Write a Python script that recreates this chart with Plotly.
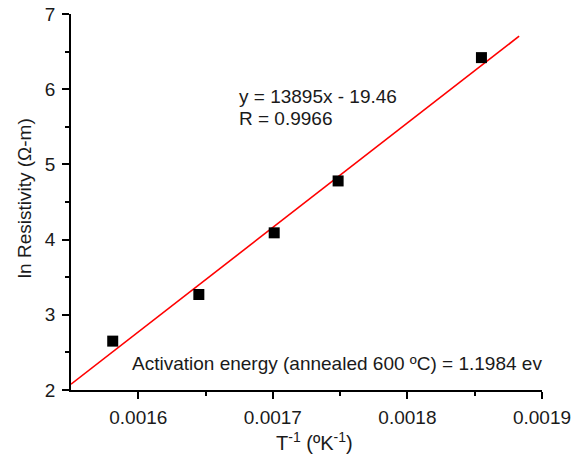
import plotly.graph_objects as go

# Measured data: inverse temperature vs ln resistivity
inv_T = [0.001581, 0.001645, 0.001701, 0.0017485, 0.001855]
ln_rho = [2.65, 3.27, 4.09, 4.78, 6.42]

# Linear fit reported on the chart
slope = 13895
intercept = -19.46
r_value = 0.9966
fit_x = [0.00155, 0.001883]
fit_y = [slope * x + intercept for x in fit_x]

x_ticks = [0.0016, 0.0017, 0.0018, 0.0019]
y_ticks = [2, 3, 4, 5, 6, 7]

font = "Liberation Sans, Arial, sans-serif"
txt = "#1a1a1a"

fig = go.Figure()
fig.add_trace(go.Scatter(x=fit_x, y=fit_y, mode="lines",
                         line=dict(color="#ff0000", width=1.6),
                         showlegend=False, hoverinfo="skip"))
fig.add_trace(go.Scatter(x=inv_T, y=ln_rho, mode="markers",
                         marker=dict(symbol="square", size=11, color="black"),
                         showlegend=False))

axis_common = dict(showgrid=False, zeroline=False, showline=True,
                   linecolor="black", linewidth=1.5, ticks="outside",
                   ticklen=7, tickwidth=1.5, tickcolor="black",
                   tickfont=dict(family=font, size=19, color=txt),
                   mirror=False, automargin=False)

fig.update_xaxes(range=[0.00155, 0.0019], tickvals=x_ticks,
                 ticktext=[f"{v:.4f}" for v in x_ticks],
                 ticklabelstandoff=2,
                 minor=dict(tickvals=[0.00165, 0.00175, 0.00185], ticklen=4,
                            tickwidth=1.5, tickcolor="black", ticks="outside"),
                 **axis_common)
fig.update_yaxes(range=[2, 7], tickvals=y_ticks,
                 ticklabelstandoff=3,
                 minor=dict(dtick=0.5, ticklen=4, tickwidth=1.5,
                            tickcolor="black", ticks="outside"),
                 **axis_common)

# Axis titles
fig.add_annotation(x=0.516, y=-0.138, xref="paper", yref="paper",
                   xanchor="center", yanchor="middle",
                   text="T<sup>-1</sup> (ºK<sup>-1</sup>)", showarrow=False,
                   font=dict(family=font, size=20, color=txt))
fig.add_annotation(x=-0.1, y=0.51, xref="paper", yref="paper",
                   xanchor="center", yanchor="middle",
                   text="ln Resistivity (Ω-m)", textangle=-90, showarrow=False,
                   font=dict(family=font, size=19, color=txt))

ann_font = dict(family=font, size=19, color=txt)
fig.add_annotation(x=0.0016735, y=5.90, xref="x", yref="y", xanchor="left",
                   text=f"y = {slope}x - {abs(intercept):.2f}",
                   showarrow=False, font=ann_font)
fig.add_annotation(x=0.0016735, y=5.61, xref="x", yref="y", xanchor="left",
                   text=f"R = {r_value}", showarrow=False, font=ann_font)
fig.add_annotation(x=0.001594, y=2.35, xref="x", yref="y", xanchor="left",
                   text="Activation energy (annealed 600 ºC) = 1.1984 ev",
                   showarrow=False, font=ann_font)

fig.update_layout(width=583, height=459, plot_bgcolor="white",
                  paper_bgcolor="white",
                  margin=dict(l=71, r=41, t=14, b=69, autoexpand=False))

fig.write_html("out.html")
